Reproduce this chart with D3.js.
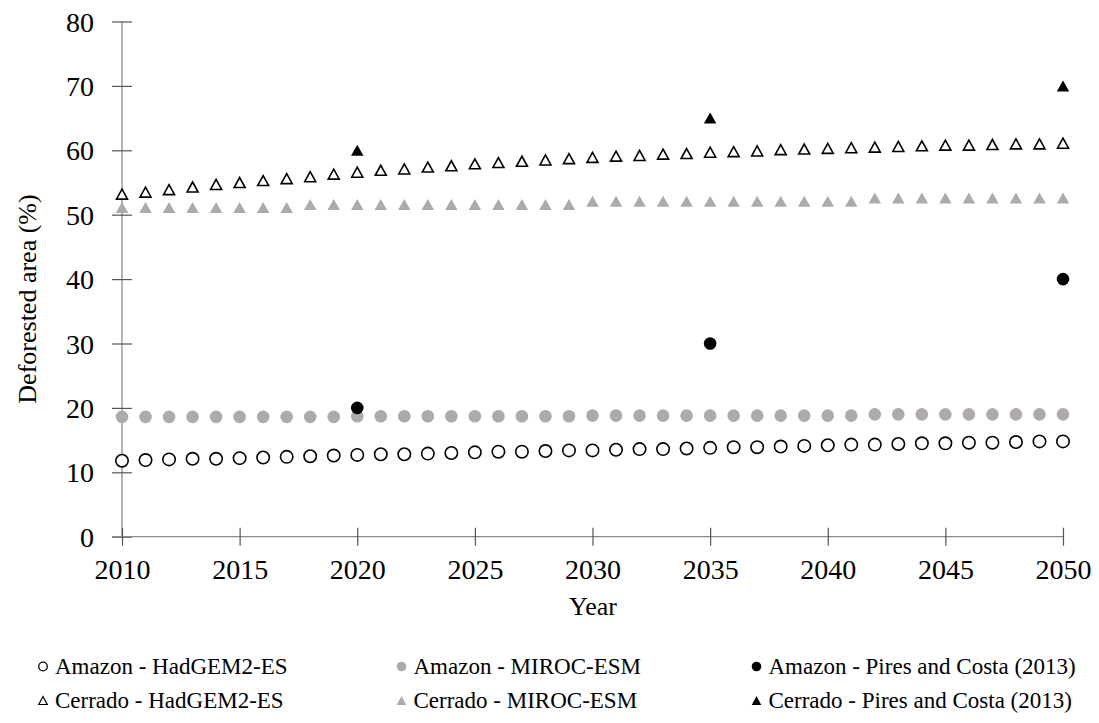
<!DOCTYPE html>
<html>
<head>
<meta charset="utf-8">
<script src="https://cdn.jsdelivr.net/npm/d3@7"></script>
<style>
  html, body { margin: 0; padding: 0; background: #fff; }
  svg text { font-family: 'Liberation Serif', 'Times New Roman', Times, 'Nimbus Roman', serif !important; }
</style>
</head>
<body>
<svg id="chart" width="1099" height="723"></svg>
<script>
// ---- Data ----
const years = d3.range(2010, 2051);
const amazonHadGEM = [11.8, 11.9, 12.0, 12.1, 12.1, 12.2, 12.3, 12.4, 12.5, 12.6,
  12.7, 12.8, 12.8, 12.9, 13.0, 13.1, 13.2, 13.2, 13.3, 13.4,
  13.4, 13.5, 13.6, 13.6, 13.7, 13.8, 13.9, 13.9, 14.0, 14.1,
  14.2, 14.3, 14.3, 14.4, 14.5, 14.5, 14.6, 14.6, 14.7, 14.8, 14.8];
const amazonMIROC = [18.6, 18.6, 18.6, 18.6, 18.6, 18.6, 18.6, 18.6, 18.6, 18.6,
  18.7, 18.7, 18.7, 18.7, 18.7, 18.7, 18.7, 18.7, 18.7, 18.7,
  18.8, 18.8, 18.8, 18.8, 18.8, 18.8, 18.8, 18.8, 18.8, 18.8,
  18.8, 18.8, 19.0, 19.0, 19.0, 19.0, 19.0, 19.0, 19.0, 19.0, 19.0];
const cerradoHadGEM = [53.2, 53.5, 53.9, 54.3, 54.7, 55.0, 55.3, 55.6, 55.9, 56.3,
  56.6, 56.9, 57.1, 57.4, 57.6, 57.9, 58.1, 58.3, 58.5, 58.7,
  58.9, 59.1, 59.2, 59.4, 59.5, 59.7, 59.8, 59.9, 60.1, 60.2,
  60.3, 60.4, 60.5, 60.6, 60.7, 60.8, 60.8, 60.9, 61.0, 61.0, 61.1];
const cerradoMIROC = [51.1, 51.1, 51.1, 51.1, 51.1, 51.1, 51.1, 51.1, 51.6, 51.6,
  51.6, 51.6, 51.6, 51.6, 51.6, 51.6, 51.6, 51.6, 51.6, 51.6,
  52.1, 52.1, 52.1, 52.1, 52.1, 52.1, 52.1, 52.1, 52.1, 52.1,
  52.1, 52.1, 52.6, 52.6, 52.6, 52.6, 52.6, 52.6, 52.6, 52.6, 52.6];
const piresYears = [2020, 2035, 2050];
const amazonPires = [20, 30, 40];
const cerradoPires = [60, 65, 70];

const xTicks = [2010, 2015, 2020, 2025, 2030, 2035, 2040, 2045, 2050];
const yTicks = [0, 10, 20, 30, 40, 50, 60, 70, 80];
const legendLabels = [
  "Amazon - HadGEM2-ES", "Amazon - MIROC-ESM", "Amazon - Pires and Costa (2013)",
  "Cerrado - HadGEM2-ES", "Cerrado - MIROC-ESM", "Cerrado - Pires and Costa (2013)"
];
const xTitle = "Year";
const yTitle = "Deforested area (%)";

// ---- Layout ----
const FONT = "'Liberation Serif', 'Times New Roman', Times, serif";
const svg = d3.select("#chart").attr("font-family", FONT);
const x = d3.scaleLinear().domain([2010, 2050]).range([122, 1063]);
const y = d3.scaleLinear().domain([0, 80]).range([536.7, 21.5]);
const GRAY = "#AEAAAA";

// Axes
const yAxis = svg.append("g").attr("transform", `translate(${x(2010)},0)`)
  .call(d3.axisLeft(y).tickValues(yTicks).tickSize(10).tickPadding(18).tickSizeOuter(0));
const xAxis = svg.append("g").attr("transform", `translate(0,${y(0)})`)
  .call(d3.axisBottom(x).tickValues(xTicks).tickFormat(d3.format("d")).tickSize(9).tickSizeOuter(0));

[yAxis, xAxis].forEach(g => {
  g.attr("font-family", FONT).attr("font-size", 28);
  g.select(".domain").attr("stroke", "#8c8c8c").attr("stroke-width", 1.3);
  g.selectAll(".tick line").attr("stroke", "#555").attr("stroke-width", 1.2);
  g.selectAll(".tick text").attr("fill", "#000").attr("font-size", 28).attr("font-family", FONT);
});
yAxis.selectAll(".tick line").attr("x1", -10).attr("x2", 10);
yAxis.selectAll(".tick text").attr("dy", "0.34em");
xAxis.selectAll(".tick line").attr("y1", -9).attr("y2", 9);
xAxis.selectAll(".tick text").attr("y", 42.5).attr("dy", 0);
yAxis.select(".domain").attr("d", `M0,${y(0)}V${y(80)}`);
xAxis.select(".domain").attr("d", `M${x(2010) - 10},0H${x(2050)}`);

// Titles
svg.append("text").attr("x", 593).attr("y", 615).attr("text-anchor", "middle")
  .attr("font-size", 26).text(xTitle);
svg.append("text").attr("transform", "translate(36,299) rotate(-90)")
  .attr("text-anchor", "middle").attr("font-size", 26).text(yTitle);

// Marker helpers
function triPath(w, h) {
  const p = d3.path();
  p.moveTo(0, -h / 2); p.lineTo(w / 2, h / 2); p.lineTo(-w / 2, h / 2); p.closePath();
  return p.toString();
}
const markerStyles = [
  { shape: "circle", r: 6.2, fill: "#fff", stroke: "#000", sw: 1.6 },
  { shape: "circle", r: 6.3, fill: GRAY, stroke: "none", sw: 0 },
  { shape: "circle", r: 6.3, fill: "#000", stroke: "none", sw: 0 },
  { shape: "tri", w: 11, h: 10, fill: "#fff", stroke: "#000", sw: 1.6 },
  { shape: "tri", w: 12.5, h: 11, fill: GRAY, stroke: "none", sw: 0 },
  { shape: "tri", w: 12.5, h: 11, fill: "#000", stroke: "none", sw: 0 }
];

function drawSeries(xs, vals, st) {
  const g = svg.append("g");
  const pts = xs.map((yr, i) => ({ yr, v: vals[i] }));
  if (st.shape === "circle") {
    g.selectAll("circle").data(pts).join("circle")
      .attr("cx", d => x(d.yr)).attr("cy", d => y(d.v)).attr("r", st.r)
      .attr("fill", st.fill).attr("stroke", st.stroke).attr("stroke-width", st.sw);
  } else {
    g.selectAll("path").data(pts).join("path")
      .attr("d", triPath(st.w, st.h))
      .attr("transform", d => `translate(${x(d.yr)},${y(d.v)})`)
      .attr("fill", st.fill).attr("stroke", st.stroke).attr("stroke-width", st.sw)
      .attr("stroke-linejoin", "miter");
  }
}

drawSeries(years, cerradoMIROC, markerStyles[4]);
drawSeries(years, cerradoHadGEM, markerStyles[3]);
drawSeries(years, amazonMIROC, markerStyles[1]);
drawSeries(years, amazonHadGEM, markerStyles[0]);
drawSeries(piresYears, amazonPires, markerStyles[2]);
drawSeries(piresYears, cerradoPires, markerStyles[5]);

// Legend
const colMarkerX = [43, 401.5, 756.5];
const rowBaseline = [674, 708];
const lg = svg.append("g");
legendLabels.forEach((lab, i) => {
  const col = i % 3, row = Math.floor(i / 3);
  const st = markerStyles[i];
  const mx = colMarkerX[col], my = rowBaseline[row] - 7.5;
  if (st.shape === "circle") {
    lg.append("circle").attr("cx", mx).attr("cy", my).attr("r", st.sw ? 4.3 : 4.8)
      .attr("fill", st.fill).attr("stroke", st.stroke).attr("stroke-width", st.sw ? 1.3 : 0);
  } else {
    lg.append("path").attr("d", triPath(st.sw ? 8.5 : 9.5, st.sw ? 8 : 9))
      .attr("transform", `translate(${mx},${my})`)
      .attr("fill", st.fill).attr("stroke", st.stroke).attr("stroke-width", st.sw ? 1.2 : 0);
  }
  lg.append("text").attr("x", mx + 12).attr("y", rowBaseline[row])
    .attr("font-size", 23).attr("fill", "#000").text(lab);
});
</script>
</body>
</html>
